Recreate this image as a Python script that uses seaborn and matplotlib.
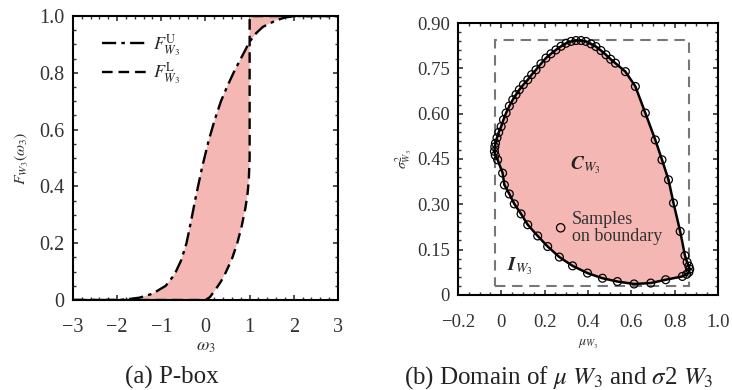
import numpy as np
import matplotlib
matplotlib.use("Agg")
import matplotlib.pyplot as plt
from matplotlib.patches import Rectangle
from matplotlib.ticker import MultipleLocator, FuncFormatter
import seaborn as sns

# ---- (a) P-box of W3: upper and lower CDF bounds ----
omega_upper = [-3.0, -2.0, -1.8, -1.5, -1.2, -0.9, -0.7, -0.55, -0.43, -0.33, -0.23,
               -0.08, 0.07, 0.2, 0.35, 0.5, 0.65, 0.8, 1.0, 1.15, 1.3, 1.6, 1.8, 2.0, 3.0]
cdf_upper = [0.0, 0.0, 0.002, 0.008, 0.022, 0.05, 0.09, 0.14, 0.2, 0.275, 0.355,
             0.465, 0.56, 0.63, 0.70, 0.755, 0.805, 0.85, 0.91, 0.94, 0.962, 0.985, 0.995, 1.0, 1.0]

omega_lower = [-3.0, 0.0, 0.1, 0.22, 0.35, 0.45, 0.6, 0.72, 0.82, 0.9, 0.95, 0.98, 1.0, 1.0, 3.0]
cdf_lower = [0.0, 0.0, 0.01, 0.035, 0.065, 0.094, 0.145, 0.2, 0.26, 0.32, 0.37, 0.42, 0.5, 1.0, 1.0]

# ---- (b) boundary samples of the (mu, sigma^2) domain C_W3 ----
mu_boundary = [-0.032, -0.030, -0.027, -0.020, -0.012, -0.001, 0.010, 0.022, 0.037, 0.053,
               0.068, 0.083, 0.102, 0.122, 0.140, 0.160, 0.183, 0.206, 0.229, 0.252,
               0.276, 0.299, 0.322, 0.345, 0.368, 0.391, 0.414, 0.437, 0.460, 0.483,
               0.505, 0.527, 0.573, 0.619, 0.665, 0.711, 0.742, 0.772, 0.795, 0.826,
               0.848, 0.858, 0.866, 0.870, 0.866, 0.856, 0.836, 0.759, 0.690, 0.613,
               0.536, 0.467, 0.398, 0.329, 0.268, 0.214, 0.168, 0.122, 0.091, 0.060,
               0.037, 0.014, 0.006, -0.017, -0.028]
var_boundary = [0.475, 0.490, 0.502, 0.520, 0.538, 0.557, 0.580, 0.602, 0.625, 0.646,
                0.663, 0.679, 0.696, 0.712, 0.729, 0.745, 0.765, 0.784, 0.798, 0.811,
                0.823, 0.833, 0.839, 0.842, 0.842, 0.839, 0.831, 0.822, 0.809, 0.795,
                0.780, 0.767, 0.739, 0.690, 0.602, 0.513, 0.447, 0.381, 0.304, 0.210,
                0.130, 0.108, 0.095, 0.085, 0.075, 0.068, 0.061, 0.050, 0.039, 0.036,
                0.044, 0.055, 0.072, 0.096, 0.125, 0.160, 0.195, 0.232, 0.268, 0.301,
                0.334, 0.364, 0.403, 0.447, 0.462]

# interval box I_W3
mu_box = [-0.03, 0.865]
var_box = [0.03, 0.845]

# marker used as the in-plot key
mu_key, var_key = [0.274], [0.222]

PINK = "#F4B7B4"

sns.set_theme(style="ticks")
plt.rcParams.update({
    "font.family": ["Liberation Serif", "DejaVu Serif"],
    "mathtext.fontset": "stix",
    "axes.linewidth": 1.5,
    "axes.edgecolor": "black",
    "xtick.direction": "in",
    "ytick.direction": "in",
    "xtick.top": True,
    "ytick.right": True,
    "xtick.major.size": 3.5,
    "ytick.major.size": 3.5,
    "xtick.minor.size": 2.0,
    "ytick.minor.size": 2.0,
    "xtick.major.width": 1.2,
    "ytick.major.width": 1.2,
    "xtick.minor.width": 1.0,
    "ytick.minor.width": 1.0,
    "xtick.color": "#333333",
    "ytick.color": "#333333",
    "xtick.labelcolor": "#333333",
    "ytick.labelcolor": "#333333",
})

fig = plt.figure(figsize=(7.32, 3.90), dpi=100)
ax1 = fig.add_axes([0.0997, 0.2308, 0.362, 0.728])
ax2 = fig.add_axes([0.6257, 0.244, 0.355, 0.697])

# ---------------- panel (a) ----------------
ax1.fill(np.r_[omega_upper, omega_lower[::-1]], np.r_[cdf_upper, cdf_lower[::-1]],
         color=PINK, lw=0, zorder=1)
sns.lineplot(x=omega_upper, y=cdf_upper, ax=ax1, sort=False, estimator=None,
             color="black", lw=1.7, linestyle=(0, (6, 2.2, 1.5, 2.2)),
             label=r"$F^{\mathrm{U}}_{W_3}$", zorder=3)
sns.lineplot(x=omega_lower, y=cdf_lower, ax=ax1, sort=False, estimator=None,
             color="black", lw=1.7, linestyle=(0, (4.5, 2.5)),
             label=r"$F^{\mathrm{L}}_{W_3}$", zorder=3)
ax1.set_xlim(-3, 3)
ax1.set_ylim(0, 1)
ax1.xaxis.set_major_locator(MultipleLocator(1))
ax1.xaxis.set_minor_locator(MultipleLocator(0.2))
ax1.yaxis.set_major_locator(MultipleLocator(0.2))
ax1.yaxis.set_minor_locator(MultipleLocator(0.05))
ax1.yaxis.set_major_formatter(FuncFormatter(lambda v, _: "0" if abs(v) < 1e-9 else f"{v:.1f}"))
ax1.tick_params(labelsize=14.5)
ax1.tick_params(axis="x", pad=13)
ax1.tick_params(axis="y", pad=6)
ax1.set_xlabel(r"$\omega_3$", fontsize=13, color="#333333", labelpad=1)
ax1.set_ylabel(r"$F_{W_3}(\omega_3)$", fontsize=11.5, color="#333333", labelpad=6)
leg = ax1.legend(loc="upper left", bbox_to_anchor=(0.05, 1.0), frameon=False,
                 fontsize=13, handlelength=2.4, handletextpad=0.4, labelspacing=0.1)

# ---------------- panel (b) ----------------
ax2.fill(mu_boundary, var_boundary, color=PINK, lw=0, zorder=1)
ax2.add_patch(Rectangle((mu_box[0], var_box[0]), mu_box[1] - mu_box[0], var_box[1] - var_box[0],
                        fill=False, ec="#777777", lw=1.5, ls=(0, (5, 3.2)), zorder=2))
sns.lineplot(x=mu_boundary + mu_boundary[:1], y=var_boundary + var_boundary[:1], ax=ax2,
             sort=False, estimator=None, color="black", lw=1.8, zorder=3)
sns.scatterplot(x=mu_boundary, y=var_boundary, ax=ax2, marker="o", s=32,
                facecolors="none", edgecolors="black", linewidth=0.9, zorder=4)
sns.scatterplot(x=mu_key, y=var_key, ax=ax2, marker="o", s=36,
                facecolors="none", edgecolors="black", linewidth=0.9, zorder=4)
ax2.text(0.327, 0.222, "Samples\non boundary", fontsize=13, color="#333333",
         ha="left", va="center", linespacing=1.0)
ax2.text(0.39, 0.43, r"$\mathbfit{C}_{W_3}$", fontsize=14, ha="center", va="center",
         color="#222222")
ax2.text(0.085, 0.096, r"$\mathbfit{I}_{W_3}$", fontsize=14, ha="center", va="center",
         color="#222222")
ax2.set_xlim(-0.2, 1.0)
ax2.set_ylim(0, 0.9)
ax2.xaxis.set_major_locator(MultipleLocator(0.2))
ax2.xaxis.set_minor_locator(MultipleLocator(0.05))
ax2.yaxis.set_major_locator(MultipleLocator(0.15))
ax2.yaxis.set_minor_locator(MultipleLocator(0.03))
ax2.xaxis.set_major_formatter(FuncFormatter(
    lambda v, _: "0" if abs(v) < 1e-9 else f"{v:.1f}".replace("-", "\u2212")))
ax2.yaxis.set_major_formatter(FuncFormatter(lambda v, _: "0" if abs(v) < 1e-9 else f"{v:.2f}"))
ax2.tick_params(labelsize=13.5)
ax2.tick_params(axis="x", pad=14)
ax2.tick_params(axis="y", pad=6)
ax2.set_xlabel(r"$\mu_{W_3}$", fontsize=10, color="#333333", labelpad=5)
ax2.set_ylabel(r"$\sigma^2_{W_3}$", fontsize=10, color="#333333", labelpad=2)

# captions
fig.text(0.235, 0.031, "(a) P-box", fontsize=18, ha="center", va="center", color="#222222")
fig.text(0.764, 0.031, r"(b) Domain of $\mu$ $W_3$ and $\sigma$2 $W_3$", fontsize=18,
         ha="center", va="center", color="#222222")

fig.savefig("out.png", dpi=100)
